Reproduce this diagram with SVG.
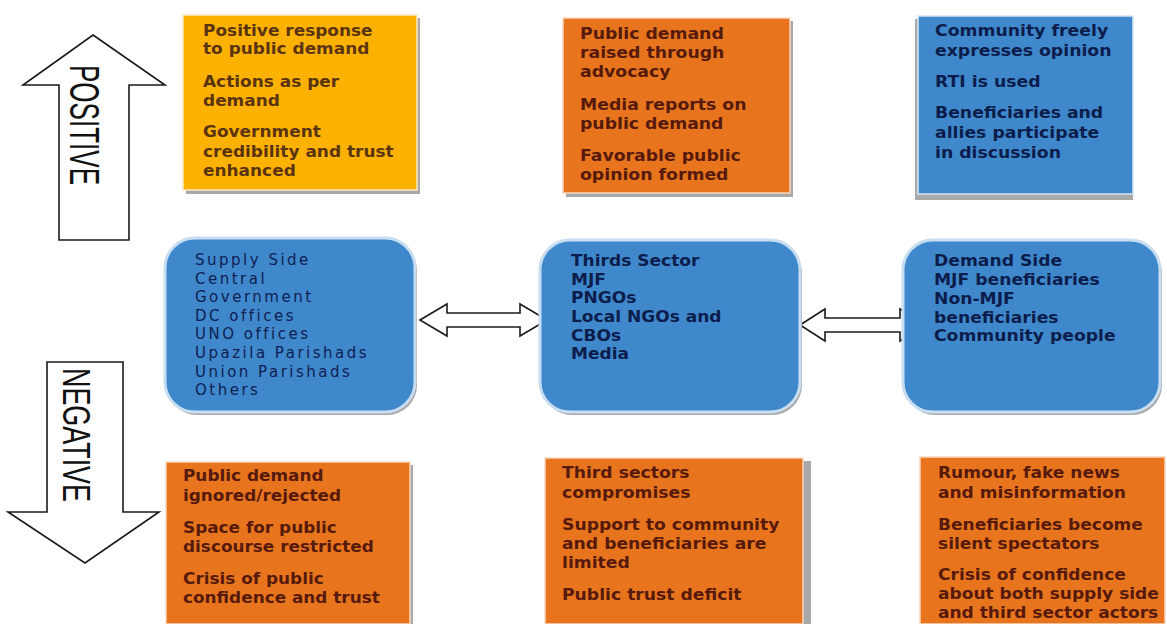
<svg xmlns="http://www.w3.org/2000/svg" width="1167" height="624" viewBox="0 0 1167 624">
<defs>
<style>
.bg{fill:#ffffff}
.yel{fill:#FDB100;stroke:#fbe9c4;stroke-width:1.5}
.org{fill:#E8741E;stroke:#f7d7bd;stroke-width:1.5}
.blu{fill:#3F88CB;stroke:#d6e6f5;stroke-width:1.5}
.rbox{fill:#3F88CB;stroke:#c7ddf1;stroke-width:3}
.shadow{fill:#a9a9a9}
.arrow{fill:#ffffff;stroke:#1a1a1a;stroke-width:1.6;stroke-linejoin:miter}
.t{font-family:"DejaVu Sans","Liberation Sans",sans-serif;font-weight:bold;font-size:16px}
.tm{font-family:"DejaVu Sans","Liberation Sans",sans-serif;font-weight:bold;font-size:15.5px}
.ty{fill:#5a3411}
.to{fill:#561a0c}
.tb{fill:#0c1d4b}
.tl{font-family:"DejaVu Sans","Liberation Sans",sans-serif;font-size:15px;letter-spacing:2.5px;fill:#0f2052}
.big{font-family:"Liberation Sans",Arial,sans-serif;fill:#111111}
</style>
</defs>
<rect class="bg" x="0" y="0" width="1167" height="624"/>

<g id="connectors">
<polygon id="arrow-positive" class="arrow" points="93,35 165,85 129,85 129,240 59,240 59,85 23,85"/>
<polygon id="arrow-negative" class="arrow" points="47,362 123,362 123,512 159,512 85,563 8,512 47,512"/>
<polygon id="arrow-supply-third" class="arrow" points="420,320 447,304 447,313 520,313 520,304 547,320 520,336 520,327 447,327 447,336"/>
<polygon id="arrow-third-demand" class="arrow" points="800,325 825,309 825,318 900,318 900,309 927,325 900,341 900,332 825,332 825,341"/>
</g>

<g id="label-positive">
<text class="big" font-size="42" transform="translate(70,65) rotate(90)" textLength="120" lengthAdjust="spacingAndGlyphs">POSITIVE</text>
</g>
<g id="label-negative">
<text class="big" font-size="38" transform="translate(63,368) rotate(90)" textLength="134" lengthAdjust="spacingAndGlyphs">NEGATIVE</text>
</g>

<g id="pos-supply">
<rect class="shadow" x="186" y="18" width="234" height="176"/>
<rect class="yel" x="183" y="15" width="234" height="175"/>
<text class="t ty" transform="translate(203,0) scale(1.06,1)">
<tspan x="0" y="36">Positive response</tspan>
<tspan x="0" y="54.5">to public demand</tspan>
<tspan x="0" y="87">Actions as per</tspan>
<tspan x="0" y="106">demand</tspan>
<tspan x="0" y="137">Government</tspan>
<tspan x="0" y="157">credibility and trust</tspan>
<tspan x="0" y="176">enhanced</tspan>
</text>
</g>

<g id="pos-third">
<rect class="shadow" x="566" y="21" width="227" height="176"/>
<rect class="org" x="563" y="18" width="227" height="175"/>
<text class="t to" transform="translate(580,0) scale(1.08,1)">
<tspan x="0" y="39">Public demand</tspan>
<tspan x="0" y="58">raised through</tspan>
<tspan x="0" y="77">advocacy</tspan>
<tspan x="0" y="110">Media reports on</tspan>
<tspan x="0" y="129">public demand</tspan>
<tspan x="0" y="161">Favorable public</tspan>
<tspan x="0" y="180">opinion formed</tspan>
</text>
</g>

<g id="pos-demand">
<rect class="shadow" x="915" y="19" width="218" height="181"/>
<rect class="blu" x="918" y="16" width="215" height="178"/>
<text class="t tb" transform="translate(935,0) scale(1.08,1)">
<tspan x="0" y="36.5">Community freely</tspan>
<tspan x="0" y="56.5">expresses opinion</tspan>
<tspan x="0" y="87">RTI is used</tspan>
<tspan x="0" y="118">Beneficiaries and</tspan>
<tspan x="0" y="138">allies participate</tspan>
<tspan x="0" y="158">in discussion</tspan>
</text>
</g>

<g id="supply-side">
<rect class="shadow" x="167" y="241" width="250" height="174" rx="30"/>
<rect class="rbox" x="165" y="238" width="250" height="174" rx="30"/>
<text class="tl">
<tspan x="195" y="265">Supply Side</tspan>
<tspan x="195" y="283.6">Central</tspan>
<tspan x="195" y="302.2">Government</tspan>
<tspan x="195" y="320.8">DC offices</tspan>
<tspan x="195" y="339.4">UNO offices</tspan>
<tspan x="195" y="358">Upazila Parishads</tspan>
<tspan x="195" y="376.6">Union Parishads</tspan>
<tspan x="195" y="395.2">Others</tspan>
</text>
</g>

<g id="third-sector">
<rect class="shadow" x="542" y="243" width="260" height="172" rx="30"/>
<rect class="rbox" x="540" y="240" width="260" height="172" rx="30"/>
<text class="tm tb" transform="translate(571,0) scale(1.1,1)">
<tspan x="0" y="266">Thirds Sector</tspan>
<tspan x="0" y="284.7">MJF</tspan>
<tspan x="0" y="303.4">PNGOs</tspan>
<tspan x="0" y="322.1">Local NGOs and</tspan>
<tspan x="0" y="340.8">CBOs</tspan>
<tspan x="0" y="359.5">Media</tspan>
</text>
</g>

<g id="demand-side">
<rect class="shadow" x="905" y="243" width="257" height="172" rx="30"/>
<rect class="rbox" x="903" y="240" width="257" height="172" rx="30"/>
<text class="tm tb" transform="translate(934,0) scale(1.11,1)">
<tspan x="0" y="266.5">Demand Side</tspan>
<tspan x="0" y="285.2">MJF beneficiaries</tspan>
<tspan x="0" y="303.9">Non-MJF</tspan>
<tspan x="0" y="322.6">beneficiaries</tspan>
<tspan x="0" y="341.3">Community people</tspan>
</text>
</g>

<g id="neg-supply">
<rect class="shadow" x="169" y="465" width="244" height="160"/>
<rect class="org" x="166" y="462" width="244" height="162"/>
<text class="t to" transform="translate(183,0) scale(1.055,1)">
<tspan x="0" y="481.5">Public demand</tspan>
<tspan x="0" y="501">ignored/rejected</tspan>
<tspan x="0" y="533">Space for public</tspan>
<tspan x="0" y="552">discourse restricted</tspan>
<tspan x="0" y="584">Crisis of public</tspan>
<tspan x="0" y="603">confidence and trust</tspan>
</text>
</g>

<g id="neg-third">
<rect class="shadow" x="548" y="461" width="263" height="164"/>
<rect class="org" x="545" y="458" width="258" height="166"/>
<text class="t to" transform="translate(562,0) scale(1.075,1)">
<tspan x="0" y="478">Third sectors</tspan>
<tspan x="0" y="498">compromises</tspan>
<tspan x="0" y="530">Support to community</tspan>
<tspan x="0" y="549">and beneficiaries are</tspan>
<tspan x="0" y="568">limited</tspan>
<tspan x="0" y="600">Public trust deficit</tspan>
</text>
</g>

<g id="neg-demand">
<rect class="org" x="920" y="457" width="245" height="167"/>
<text class="t to" transform="translate(938,0) scale(1.065,1)">
<tspan x="0" y="478">Rumour, fake news</tspan>
<tspan x="0" y="498">and misinformation</tspan>
<tspan x="0" y="530">Beneficiaries become</tspan>
<tspan x="0" y="549">silent spectators</tspan>
<tspan x="0" y="580">Crisis of confidence</tspan>
<tspan x="0" y="599">about both supply side</tspan>
<tspan x="0" y="618">and third sector actors</tspan>
</text>
</g>
</svg>
